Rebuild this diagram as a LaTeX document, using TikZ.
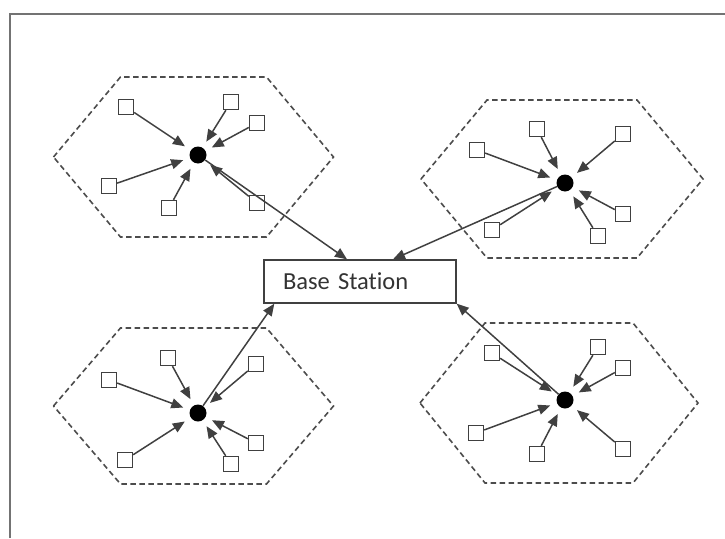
\documentclass[tikz,border=0pt]{standalone}
\usepackage{fontspec}
\setmainfont{Carlito}[Ligatures=NoCommon]
\usetikzlibrary{arrows.meta,calc}

\tikzset{
  frameline/.style={draw=black!55, line width=2.6pt},
  cell/.style={draw=black!70, line width=1.6pt, dash pattern=on 5.5pt off 3.5pt},
  sensor/.style={draw=black!75, line width=1.4pt, fill=white, minimum size=15pt, inner sep=0pt},
  hub/.style={circle, fill=black, minimum size=17pt, inner sep=0pt},
  feed/.style={draw=black!75, line width=1.5pt, -{Triangle[length=12pt,width=10pt]}, shorten >=7pt},
  uplink/.style={draw=black!75, line width=1.5pt, -{Triangle[length=12pt,width=10pt]}},
  bsbox/.style={draw=black!75, line width=1.4pt, fill=white, minimum width=192pt, minimum height=43pt,
    text width=154pt, inner xsep=19pt, align=left, font=\fontsize{24.5}{26}\selectfont, text=black!80},
}

\begin{document}
\begin{tikzpicture}[x=1pt, y=-1pt]
\useasboundingbox (0,0) rectangle (725,538);

% outer frame (top and left edges)
\draw[frameline] (10,538) -- (10,14) -- (725,14);

% dashed hexagonal cells
\draw[cell, shift={(193.5,157)}] (-140,0) -- (-73,-80) -- (73,-80) -- (140,0) -- (73,80) -- (-73,80) -- cycle;
\draw[cell, shift={(562,179)}]   (-141,0) -- (-75,-79) -- (75,-79) -- (141,0) -- (75,79) -- (-75,79) -- cycle;
\draw[cell, shift={(193.5,406)}] (-140,0) -- (-73,-78) -- (73,-78) -- (140,0) -- (73,78) -- (-73,78) -- cycle;
\draw[cell, shift={(559,403)}]   (-139,0) -- (-74,-80) -- (74,-80) -- (139,0) -- (74,80) -- (-74,80) -- cycle;

% base station
\node[bsbox] (bs) at (360,281.5) {Base Station};

% cluster heads
\node[hub] (h1) at (198,155) {};
\node[hub] (h2) at (565,183) {};
\node[hub] (h3) at (198,413) {};
\node[hub] (h4) at (565,400) {};

% sensors, cluster 1
\node[sensor] (a1) at (126,107) {};
\node[sensor] (a2) at (231,102) {};
\node[sensor] (a3) at (257,123) {};
\node[sensor] (a4) at (109,186) {};
\node[sensor] (a5) at (169,208) {};
\node[sensor] (a6) at (257,203) {};
% sensors, cluster 2
\node[sensor] (b1) at (477,150) {};
\node[sensor] (b2) at (537,129) {};
\node[sensor] (b3) at (623,134) {};
\node[sensor] (b4) at (492,230) {};
\node[sensor] (b5) at (623,214) {};
\node[sensor] (b6) at (598,236) {};
% sensors, cluster 3
\node[sensor] (c1) at (168,358) {};
\node[sensor] (c2) at (109,380) {};
\node[sensor] (c3) at (256,364) {};
\node[sensor] (c4) at (125,460) {};
\node[sensor] (c5) at (256,443) {};
\node[sensor] (c6) at (231,464) {};
% sensors, cluster 4
\node[sensor] (d1) at (492,353) {};
\node[sensor] (d2) at (598,347) {};
\node[sensor] (d3) at (623,368) {};
\node[sensor] (d4) at (476,433) {};
\node[sensor] (d5) at (537,454) {};
\node[sensor] (d6) at (623,449) {};

% sensor-to-head links
\foreach \s in {a1,a2,a3,a4,a5,a6} \draw[feed] (\s) -- (h1);
\foreach \s in {b1,b2,b3,b4,b5,b6} \draw[feed] (\s) -- (h2);
\foreach \s in {c1,c2,c3,c4,c5,c6} \draw[feed] (\s) -- (h3);
\foreach \s in {d1,d2,d3,d4,d5,d6} \draw[feed] (\s) -- (h4);

% head-to-base-station links
\coordinate (bsA) at ($(bs.north)+(-13,0)$);
\coordinate (bsB) at ($(bs.north)+(33,0)$);
\coordinate (bsC) at ($(bs.south west)+(11,0)$);
\coordinate (bsD) at (bs.south east);
\draw[uplink] (h1) -- (bsA);
\draw[uplink] (h2) -- (bsB);
\draw[uplink] (h3) -- (bsC);
\draw[uplink] (h4) -- (bsD);
\end{tikzpicture}
\end{document}
